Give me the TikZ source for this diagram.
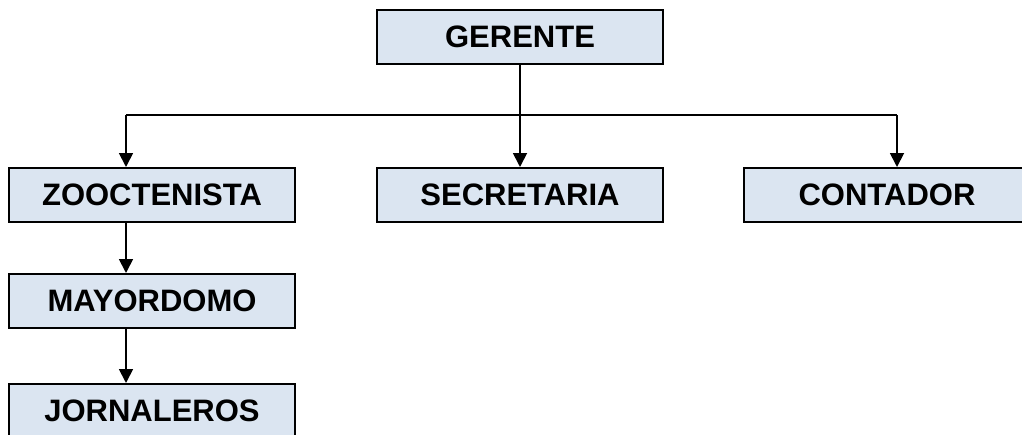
\documentclass[tikz,border=0pt]{standalone}
\usepackage{fontspec}
\setmainfont{Liberation Sans}
\usetikzlibrary{arrows.meta}
\definecolor{boxfill}{HTML}{DBE5F1}
\tikzset{
  orgbox/.style={draw=black, line width=2pt, fill=boxfill, minimum width=286pt, minimum height=54pt, inner sep=0pt, font=\fontsize{31}{34}\selectfont\bfseries},
  conn/.style={line width=1.8pt, black},
  arr/.style={conn, -{Triangle[length=14pt,width=14pt]}}
}
\begin{document}
\begin{tikzpicture}[x=1pt,y=-1pt]
\useasboundingbox (0,0) rectangle (1022,434);
\clip (0,0) rectangle (1022,434);
\node[orgbox] (ger) at (520,37) {GERENTE};
\node[orgbox] (zoo) at (152,195) {ZOOCTENISTA};
\node[orgbox] (sec) at (520,195) {SECRETARIA};
\node[orgbox] (con) at (887,195) {CONTADOR};
\node[orgbox] (may) at (152,301) {MAYORDOMO};
\node[orgbox] (jor) at (152,411) {JORNALEROS};
\coordinate (jm) at (520,115);
\coordinate (jl) at (126,115);
\coordinate (jr) at (897,115);
\draw[conn] (jl) -- (jr);
\draw[arr] (ger.south) -- (sec.north);
\draw[arr] (jl) -- (jl |- zoo.north);
\draw[arr] (jr) -- (jr |- con.north);
\draw[arr] (zoo.south -| jl) -- (jl |- may.north);
\draw[arr] (may.south -| jl) -- (jl |- jor.north);
\end{tikzpicture}
\end{document}
